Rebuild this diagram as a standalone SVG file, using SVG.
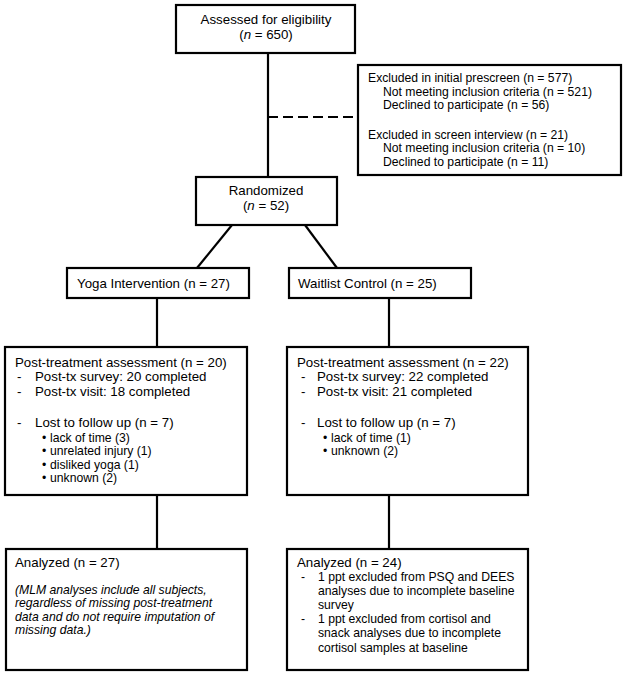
<svg xmlns="http://www.w3.org/2000/svg" width="624" height="675" viewBox="0 0 624 675">
<style>
.box{fill:#fff;stroke:#000;stroke-width:2.2}
.ln{stroke:#000;stroke-width:2.2;fill:none}
text{font-family:"Liberation Sans",Arial,sans-serif;fill:#000}
.t13{font-size:13.3px}
.t12{font-size:12.2px}
.c{text-anchor:middle}
.it{font-style:italic}
</style>
<rect width="624" height="675" fill="#fff"/>
<g id="connectors">
<line class="ln" x1="268" y1="53" x2="268" y2="177"/>
<line class="ln" x1="268" y1="117" x2="358" y2="117" stroke-dasharray="10,5"/>
<line class="ln" x1="232" y1="225" x2="197" y2="268"/>
<line class="ln" x1="305" y1="225" x2="337" y2="268"/>
<line class="ln" x1="157" y1="298" x2="157" y2="347"/>
<line class="ln" x1="389" y1="298" x2="389" y2="347"/>
<line class="ln" x1="157" y1="495" x2="157" y2="549"/>
<line class="ln" x1="389" y1="495" x2="389" y2="549"/>
</g>
<g id="assessed">
<rect class="box" x="176" y="5" width="179" height="48"/>
<text class="t13 c" x="266" y="24">Assessed for eligibility</text>
<text class="t13 c" x="266" y="39">(<tspan font-style="italic">n</tspan> = 650)</text>
</g>
<g id="excluded">
<rect class="box" x="358" y="65" width="263" height="110"/>
<text class="t12" x="368" y="82">Excluded in initial prescreen (n = 577)</text>
<text class="t12" x="383" y="96">Not meeting inclusion criteria (n = 521)</text>
<text class="t12" x="383" y="109">Declined to participate (n = 56)</text>
<text class="t12" x="368" y="139">Excluded in screen interview (n = 21)</text>
<text class="t12" x="383" y="152">Not meeting inclusion criteria (n = 10)</text>
<text class="t12" x="383" y="166">Declined to participate (n = 11)</text>
</g>
<g id="randomized">
<rect class="box" x="196" y="177" width="141" height="48"/>
<text class="t13 c" x="266" y="195">Randomized</text>
<text class="t13 c" x="266" y="210">(<tspan font-style="italic">n</tspan> = 52)</text>
</g>
<g id="yoga">
<rect class="box" x="67" y="268" width="182" height="30"/>
<text class="t13" x="77" y="288">Yoga Intervention (n = 27)</text>
</g>
<g id="waitlist">
<rect class="box" x="289" y="268" width="182" height="30"/>
<text class="t13" x="298" y="288">Waitlist Control (n = 25)</text>
</g>
<g id="post-yoga">
<rect class="box" x="5" y="347" width="242" height="148"/>
<text class="t13" x="15" y="367">Post-treatment assessment (n = 20)</text>
<text class="t13" x="17" y="381">-</text><text class="t13" x="35" y="381">Post-tx survey: 20 completed</text>
<text class="t13" x="17" y="396">-</text><text class="t13" x="35" y="396">Post-tx visit: 18 completed</text>
<text class="t13" x="17" y="427">-</text><text class="t13" x="35" y="427">Lost to follow up (n = 7)</text>
<text class="t12" x="42" y="442">•</text><text class="t12" x="50" y="442">lack of time (3)</text>
<text class="t12" x="42" y="455">•</text><text class="t12" x="50" y="455">unrelated injury (1)</text>
<text class="t12" x="42" y="469">•</text><text class="t12" x="50" y="469">disliked yoga (1)</text>
<text class="t12" x="42" y="482">•</text><text class="t12" x="50" y="482">unknown (2)</text>
</g>
<g id="post-waitlist">
<rect class="box" x="287" y="347" width="241" height="148"/>
<text class="t13" x="297" y="367">Post-treatment assessment (n = 22)</text>
<text class="t13" x="301" y="381">-</text><text class="t13" x="317" y="381">Post-tx survey: 22 completed</text>
<text class="t13" x="301" y="396">-</text><text class="t13" x="317" y="396">Post-tx visit: 21 completed</text>
<text class="t13" x="301" y="427">-</text><text class="t13" x="317" y="427">Lost to follow up (n = 7)</text>
<text class="t12" x="323" y="442">•</text><text class="t12" x="331" y="442">lack of time (1)</text>
<text class="t12" x="323" y="455">•</text><text class="t12" x="331" y="455">unknown (2)</text>
</g>
<g id="analyzed-yoga">
<rect class="box" x="6" y="549" width="241" height="121"/>
<text class="t13" x="15" y="567">Analyzed (n = 27)</text>
<text class="t12 it" x="15" y="594">(MLM analyses include all subjects,</text>
<text class="t12 it" x="15" y="607">regardless of missing post-treatment</text>
<text class="t12 it" x="15" y="621">data and do not require imputation of</text>
<text class="t12 it" x="15" y="634">missing data.)</text>
</g>
<g id="analyzed-waitlist">
<rect class="box" x="287" y="549" width="241" height="121"/>
<text class="t13" x="297" y="567">Analyzed (n = 24)</text>
<text class="t12" x="301" y="581">-</text><text class="t12" x="318" y="581">1 ppt excluded from PSQ and DEES</text>
<text class="t12" x="318" y="595">analyses due to incomplete baseline</text>
<text class="t12" x="318" y="609">survey</text>
<text class="t12" x="301" y="623">-</text><text class="t12" x="318" y="623">1 ppt excluded from cortisol and</text>
<text class="t12" x="318" y="637">snack analyses due to incomplete</text>
<text class="t12" x="318" y="652">cortisol samples at baseline</text>
</g>
</svg>
